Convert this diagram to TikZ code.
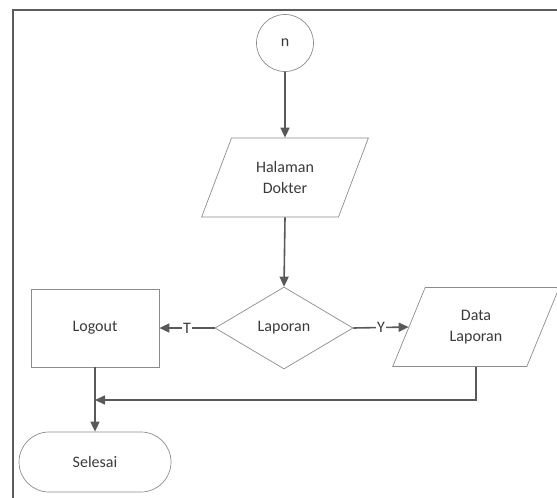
\documentclass[tikz,border=0pt]{standalone}
\usepackage{fontspec}
\setmainfont{Carlito}
\usetikzlibrary{shapes.geometric,shapes.misc,arrows.meta}
\definecolor{edge}{HTML}{595959}
\definecolor{outline}{HTML}{8C8C8C}
\definecolor{ink}{HTML}{3A3A3A}
\definecolor{framecol}{HTML}{5C5C5C}
\begin{document}
\begin{tikzpicture}[x=1pt,y=-1pt,
  base/.style={draw=outline, line width=0.7pt, text=ink,
    font=\fontsize{16}{21}\selectfont, align=center, inner sep=2pt},
  connector/.style={base, circle, minimum size=57pt},
  io/.style={base, trapezium, trapezium left angle=64.5,
    trapezium right angle=115.5, trapezium stretches=true,
    minimum width=168pt, minimum height=79pt},
  decision/.style={base, diamond, aspect=1.68,
    minimum width=138pt, minimum height=82pt},
  process/.style={base, rectangle, minimum width=128pt, minimum height=78pt},
  terminal/.style={base, rounded rectangle, minimum width=156pt,
    minimum height=60pt},
  flow/.style={draw=edge, line width=1.6pt,
    -{Triangle[length=10pt,width=9pt]}},
  answer/.style={fill=white, text=ink, font=\fontsize{16}{19}\selectfont,
    inner sep=1pt},
  border/.style={draw=framecol, line width=2.6pt}
]
\useasboundingbox (0,0) rectangle (557,498);

% page frame (top and left edges)
\coordinate (fbl) at (13,502);
\coordinate (ftl) at (13,10);
\coordinate (ftr) at (562,10);
\draw[border] (fbl) -- (ftl) -- (ftr);

% shapes
\node[connector] (start) at (285,43) {n};
\node[io] (home) at (285,177.5) {Halaman\\Dokter};
\node[decision] (report) at (284,328) {Laporan};
\node[process] (logout) at (95,328) {Logout};
\node[io] (data) at (476,327) {Data\\Laporan};
\node[terminal] (finish) at (95,462) {Selesai};

% connectors
\coordinate (merge) at (95,400);
\draw[flow] (start) -- (home);
\draw[flow] (home.south) -- (report.north);
\draw[flow] (report.west) -- node[answer] {T} (logout.east);
\draw[flow] (report.east) -- node[answer] {Y} (data.west);
\draw[flow] (logout.south) -- (finish.north);
\draw[flow] (data.south) |- (merge);
\end{tikzpicture}
\end{document}
